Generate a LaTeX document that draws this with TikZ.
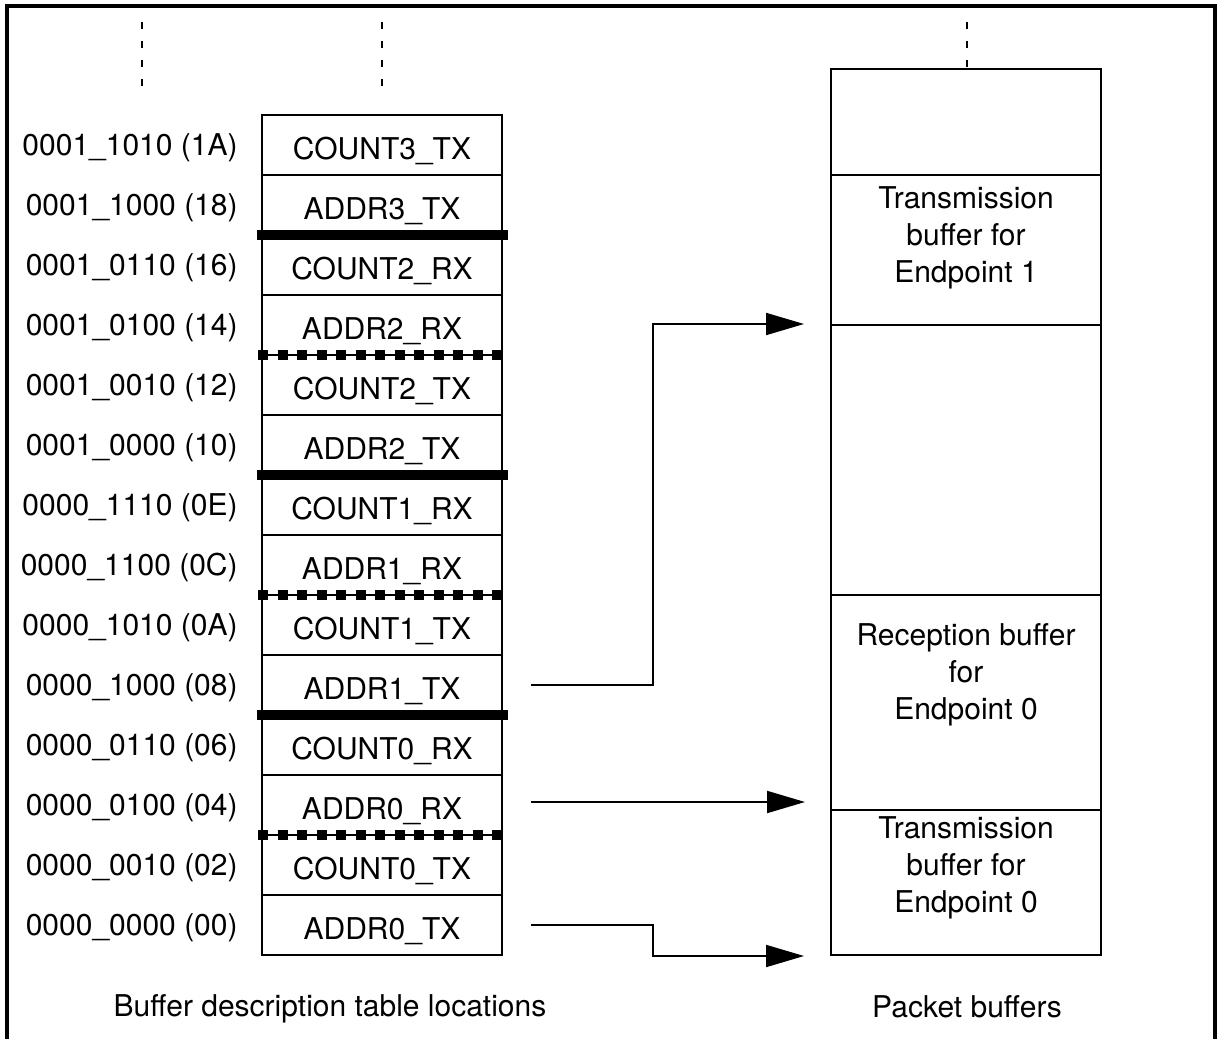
\documentclass[tikz,border=0pt]{standalone}
\usepackage{fontspec}
\setmainfont{TeX Gyre Heros}
\usetikzlibrary{arrows.meta}
\tikzset{
  cell/.style={draw,line width=1pt,minimum width=120pt,minimum height=30pt,inner sep=0pt,
    text height=14pt,text depth=0pt},
  adrlab/.style={anchor=east,inner sep=0pt,text height=10.8pt,text depth=0pt},
  bufsec/.style={draw,line width=1pt,minimum width=135pt,inner sep=0pt},
  sepline/.style={line width=5pt},
  sepdots/.style={line width=4.6pt,dash pattern=on 5pt off 4.75pt},
  cont/.style={line width=1pt,dash pattern=on 3.5pt off 6pt},
  arr/.style={line width=1pt,-{Triangle[length=19pt,width=11pt]}}
}
\begin{document}
\begin{tikzpicture}[x=0.5pt,y=-0.5pt,font=\fontsize{15}{18.5}\selectfont]
\useasboundingbox (0,0) rectangle (1222,1039);
% frame, open at the bottom
\draw[line width=1.6pt] (7,1039) -- (7,6) -- (1215,6) -- (1215,1039);
% table rows: address / entry, from top
\foreach \adr/\ent [count=\i from 0] in {%
  0001\_1010 (1A)/COUNT3\_TX,0001\_1000 (18)/ADDR3\_TX,
  0001\_0110 (16)/COUNT2\_RX,0001\_0100 (14)/ADDR2\_RX,
  0001\_0010 (12)/COUNT2\_TX,0001\_0000 (10)/ADDR2\_TX,
  0000\_1110 (0E)/COUNT1\_RX,0000\_1100 (0C)/ADDR1\_RX,
  0000\_1010 (0A)/COUNT1\_TX,0000\_1000 (08)/ADDR1\_TX,
  0000\_0110 (06)/COUNT0\_RX,0000\_0100 (04)/ADDR0\_RX,
  0000\_0010 (02)/COUNT0\_TX,0000\_0000 (00)/ADDR0\_TX}{
  \node[cell] (r\i) at (382,145+60*\i) {\ent};
  \node[adrlab] (a\i) at (238,145+60*\i) {\adr};}
% endpoint separators
\foreach \y in {235,475,715}{\draw[sepline] (257,\y) -- (508,\y);}
\foreach \y in {355,595,835}{\draw[sepdots] (258,\y) -- (508,\y);}
% continuation marks
\draw[cont] (142,22) -- (142,86);
\draw[cont] (382,22) -- (382,86);
\draw[cont] (967,22) -- (967,69);
% packet buffer sections
\node[bufsec,minimum height=53pt] (b0) at (966,122) {};
\node[bufsec,minimum height=75pt] (b1) at (966,250) {};
\node[bufsec,minimum height=135pt] (b2) at (966,460) {};
\node[bufsec,minimum height=107.5pt] (b3) at (966,702.5) {};
\node[bufsec,minimum height=72.5pt] (b4) at (966,882.5) {};
\node[align=center] (t1) at (966,238) {Transmission\\buffer for\\Endpoint 1};
\node[align=center] (t3) at (966,675) {Reception buffer\\for\\Endpoint 0};
\node[align=center] (t4) at (966,868) {Transmission\\buffer for\\Endpoint 0};
% pointers
\coordinate (s1) at ([xshift=14pt]r9.east);
\coordinate (s2) at ([xshift=14pt]r11.east);
\coordinate (s3) at ([xshift=14pt]r13.east);
\coordinate (e1) at ([xshift=-13pt]b2.north west);
\coordinate (e2) at (805,802);
\coordinate (e3) at ([xshift=-13pt]b4.south west);
\draw[arr] (s1) -- ++(122,0) |- (e1);
\draw[arr] (s2 |- e2) -- (e2);
\draw[arr] (s3) -- ++(122,0) |- (e3);
% captions
\node (cap1) at (330,1009) {Buffer description table locations};
\node (cap2) at (967,1007) {Packet buffers};
\end{tikzpicture}
\end{document}
